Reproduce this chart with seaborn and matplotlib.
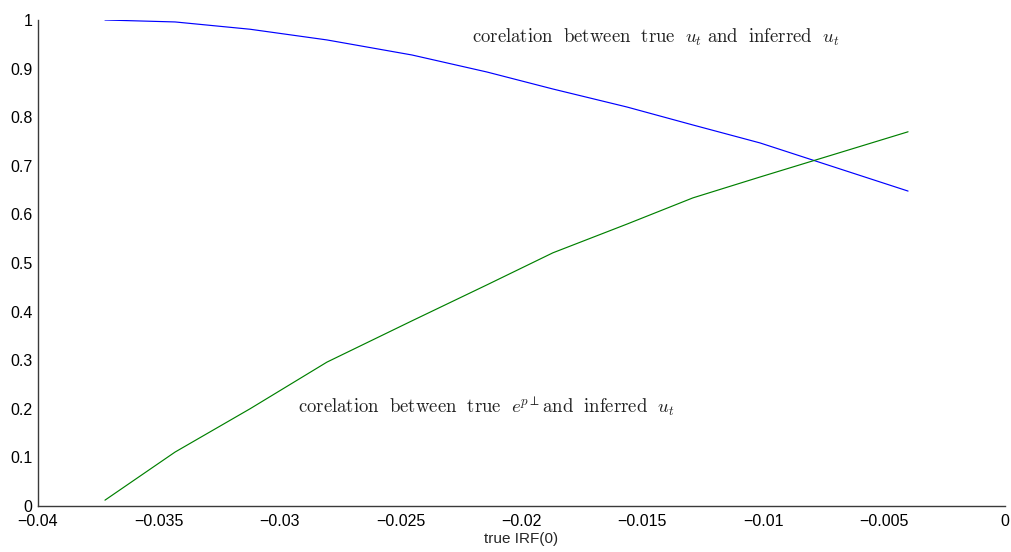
import matplotlib
matplotlib.use("Agg")
import matplotlib.pyplot as plt
import seaborn as sns
import pandas as pd

# data
irf = [-0.03723, -0.03433, -0.03123, -0.02805, -0.02453, -0.02143,
       -0.01870, -0.01564, -0.01291, -0.01013, -0.00401]
corr_u = [1.000, 0.996, 0.981, 0.959, 0.928, 0.893,
          0.858, 0.821, 0.784, 0.747, 0.648]
corr_e = [0.012, 0.111, 0.200, 0.296, 0.381, 0.455,
          0.521, 0.580, 0.634, 0.677, 0.770]
xticks = [-0.04, -0.035, -0.03, -0.025, -0.02, -0.015, -0.01, -0.005, 0]
xticklabels = ["\u22120.04", "\u22120.035", "\u22120.03", "\u22120.025", "\u22120.02",
               "\u22120.015", "\u22120.01", "\u22120.005", "0"]
yticks = [0, 0.1, 0.2, 0.3, 0.4, 0.5, 0.6, 0.7, 0.8, 0.9, 1]
yticklabels = ["0", "0.1", "0.2", "0.3", "0.4", "0.5", "0.6", "0.7", "0.8", "0.9", "1"]
label_u = r"$\mathrm{corelation\ \ between\ \ true\ \ }u_t\mathrm{\ and\ \ inferred\ \ }u_t$"
label_e = r"$\mathrm{corelation\ \ between\ \ true\ \ }e^{p\perp}\mathrm{and\ \ inferred\ \ }u_t$"
xlabel = "true IRF(0)"

sns.set_theme(style="white")
plt.rcParams["font.family"] = ["Liberation Sans", "DejaVu Sans"]
plt.rcParams["mathtext.fontset"] = "cm"

fig = plt.figure(figsize=(10.12, 5.52), dpi=100)
ax = fig.add_axes([38 / 1012, 46 / 552, (1005 - 38) / 1012, (506 - 20) / 552])

df_u = pd.DataFrame({"x": irf, "y": corr_u})
df_e = pd.DataFrame({"x": irf, "y": corr_e})
sns.lineplot(data=df_u, x="x", y="y", ax=ax, color=(0, 0, 1), lw=0.85,
             estimator=None, sort=False)
sns.lineplot(data=df_e, x="x", y="y", ax=ax, color=(0, 0.5, 0), lw=0.85,
             estimator=None, sort=False)

ax.set_xlim(-0.04, 0)
ax.set_ylim(0, 1)
ax.set_xticks(xticks)
ax.set_xticklabels(xticklabels)
ax.set_yticks(yticks)
ax.set_yticklabels(yticklabels)
ax.set_xlabel(xlabel, fontsize=11, labelpad=2)
ax.set_ylabel("")

for s in ["top", "right"]:
    ax.spines[s].set_visible(False)
for s in ["left", "bottom"]:
    ax.spines[s].set_color("#3a3a3a")
    ax.spines[s].set_linewidth(1.0)
ax.tick_params(axis="both", direction="in", length=6.5, width=0.9,
               color="#3a3a3a", labelsize=11.5, labelcolor="black")
ax.tick_params(axis="x", pad=6)
ax.tick_params(axis="y", pad=4)

ax.text(-0.02205, 0.965, label_u, fontsize=13.5, color="#222222",
        ha="left", va="center")
ax.text(-0.02925, 0.206, label_e, fontsize=13.5, color="#222222",
        ha="left", va="center")

fig.savefig("out.png", dpi=100)
